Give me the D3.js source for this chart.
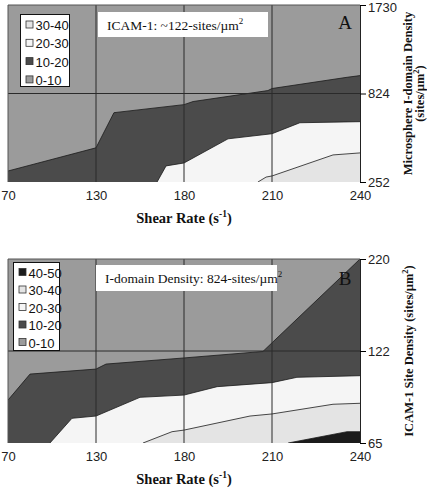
<!DOCTYPE html>
<html><head><meta charset="utf-8">
<script src="https://cdn.jsdelivr.net/npm/d3@7"></script>
<style>body{margin:0;background:#fff}svg{display:block}</style>
</head><body>
<svg id="c" width="427" height="489"></svg>
<script>
// ---- data ----
const shearTicks = [70, 130, 180, 210, 240];
const gridShear = [130, 180, 210];
const bandLabelsA = ["30-40", "20-30", "10-20", "0-10"];
const bandLabelsB = ["40-50", "30-40", "20-30", "10-20", "0-10"];
const yTicksA = [252, 824, 1730];
const yTicksB = [65, 122, 220];
// contour boundaries, panel A: [shear rate, I-domain density]
const a10 = [[70,323],[130,473],[140.2,700],[180,752],[183.1,772],[208.6,854],[210,875],[235.6,990],[240,1007]];
const a20 = [[164.7,252],[169.8,356],[180,375],[195,531],[210,564],[219.5,635],[240,642]];
const a30 = [[205.2,252],[208,284],[210,291],[230.8,427],[240,440]];
// contour boundaries, panel B: [shear rate, ICAM-1 density]
const b10 = [[70,91.6],[85,107.7],[130,110.8],[135.7,113.9],[180,117.7],[206.9,121.7],[240,220]];
const b20 = [[98.6,65],[113.6,80.3],[130,81.7],[155,93.3],[180,94.7],[191.3,99.9],[210,102.4],[218.5,105.7],[240,106.7]];
const b30 = [[156.7,65],[173.2,72],[180,73],[202.5,81.7],[210,83],[230.8,89],[240,89.6]];
const b40 = [[215.5,65],[235.6,72],[240,72]];

const colors = {"0-10":"#9b9b9b","10-20":"#4b4b4b","20-30":"#f5f5f5","30-40":"#e4e4e4","40-50":"#1b1b1b"};

const svg = d3.select("#c");
const L = 8, R = 360;

function panel(cfg) {
  const x = d3.scaleLinear().domain(shearTicks)
    .range(shearTicks.map((d, i) => L + i * (R - L) / 4));
  const y = d3.scaleLinear().domain(cfg.yTicks).range([cfg.bottom, (cfg.top + cfg.bottom) / 2, cfg.top]);
  const g = svg.append("g");
  const clipId = "clip" + cfg.id;
  svg.append("clipPath").attr("id", clipId).append("rect")
    .attr("x", L).attr("y", cfg.top).attr("width", R - L).attr("height", cfg.bottom - cfg.top);
  const pg = g.append("g").attr("clip-path", `url(#${clipId})`);
  pg.append("rect").attr("x", L).attr("y", cfg.top).attr("width", R - L).attr("height", cfg.bottom - cfg.top)
    .attr("fill", colors["0-10"]);
  const area = d3.area().x(d => x(d[0])).y0(cfg.bottom + 2).y1(d => y(d[1]));
  const line = d3.line().x(d => x(d[0])).y(d => y(d[1]));
  cfg.bands.forEach(b => {
    pg.append("path").attr("d", area(b.pts)).attr("fill", colors[b.label]);
  });
  cfg.bands.forEach(b => {
    pg.append("path").attr("d", line(b.pts)).attr("fill", "none").attr("stroke", "#1a1a1a").attr("stroke-width", 0.8);
  });
  // gridlines
  gridShear.forEach(s => {
    g.append("line").attr("x1", x(s)).attr("x2", x(s)).attr("y1", cfg.top).attr("y2", cfg.bottom)
      .attr("stroke", "#2a2a2a").attr("stroke-width", 1);
  });
  g.append("line").attr("x1", L).attr("x2", R).attr("y1", y(cfg.yTicks[1])).attr("y2", y(cfg.yTicks[1]))
    .attr("stroke", "#2a2a2a").attr("stroke-width", 1);
  // border
  g.append("path").attr("d", `M${L},${cfg.bottom}V${cfg.top}H${R}`).attr("fill", "none")
    .attr("stroke", "#555").attr("stroke-width", 1);
  // right axis
  const ax = g.append("g").attr("transform", `translate(${R},0)`)
    .call(d3.axisRight(y).tickValues(cfg.yTicks).tickSize(6).tickPadding(2).tickFormat(d3.format("d")));
  ax.select(".domain").attr("stroke", "#222");
  ax.selectAll("text").attr("font-family", "Liberation Sans, Arial").attr("font-size", 13).attr("fill", "#222");
  // keep the top label fully inside the page
  ax.selectAll(".tick text").filter(d => y(d) < 10).attr("dy", "0.5em");
  // x axis labels
  const xa = g.append("g").attr("transform", `translate(0,${cfg.bottom})`)
    .call(d3.axisBottom(x).tickValues(shearTicks).tickSize(0).tickPadding(9).tickFormat(d3.format("d")));
  xa.select(".domain").remove();
  xa.selectAll("text").attr("font-family", "Liberation Sans, Arial").attr("font-size", 13).attr("fill", "#222");
  // x title
  const xt = g.append("text").attr("x", 184).attr("y", cfg.xTitleY).attr("text-anchor", "middle")
    .attr("font-family", "Liberation Serif, Times New Roman").attr("font-weight", "bold").attr("font-size", 14.5).attr("fill", "#111");
  xt.append("tspan").text("Shear Rate (s");
  xt.append("tspan").attr("font-size", 9.5).attr("dy", -6).text("-1");
  xt.append("tspan").attr("dy", 6).text(")");
  // info box
  g.append("rect").attr("x", cfg.box[0]).attr("y", cfg.box[1]).attr("width", cfg.box[2]).attr("height", cfg.box[3]).attr("fill", "#fff");
  const it = g.append("text").attr("x", cfg.box[0] + 9).attr("y", cfg.box[1] + cfg.box[3] / 2 + 5)
    .attr("font-family", "Liberation Serif, Times New Roman").attr("font-size", 13.5).attr("fill", "#111");
  it.append("tspan").text(cfg.info);
  it.append("tspan").attr("font-size", 9).attr("dy", -6).text("2");
  // panel letter
  g.append("text").attr("x", 345).attr("y", cfg.letterY).attr("text-anchor", "middle")
    .attr("font-family", "Liberation Serif, Times New Roman").attr("font-size", 19).attr("fill", "#111").text(cfg.letter);
  // legend
  const lg = g.append("g");
  lg.append("rect").attr("x", cfg.leg[0]).attr("y", cfg.leg[1]).attr("width", cfg.leg[2]).attr("height", cfg.leg[3])
    .attr("fill", "#fff").attr("stroke", "#111").attr("stroke-width", 1);
  cfg.legLabels.forEach((lab, i) => {
    const yy = cfg.leg[1] + cfg.legFirst + i * cfg.legStep;
    lg.append("rect").attr("x", cfg.leg[0] + 5.5).attr("y", yy - 4.5).attr("width", 7).attr("height", 7)
      .attr("fill", colors[lab]).attr("stroke", "#333").attr("stroke-width", 0.8);
    lg.append("text").attr("x", cfg.leg[0] + 15).attr("y", yy + 4.5)
      .attr("font-family", "Liberation Sans, Arial").attr("font-size", 13).attr("fill", "#111").text(lab);
  });
  // y title
  const yt = g.append("g").attr("transform", `translate(${cfg.yTitleX},${(cfg.top + cfg.bottom) / 2}) rotate(-90)`);
  cfg.yTitle.forEach((ln, i) => {
    const t = yt.append("text").attr("x", 0).attr("y", i * 12.5).attr("text-anchor", "middle")
      .attr("font-family", "Liberation Serif, Times New Roman").attr("font-weight", "bold").attr("font-size", 12.5).attr("fill", "#111");
    t.append("tspan").text(ln[0]);
    if (ln.length > 1) {
      t.append("tspan").attr("font-size", 8.5).attr("dy", -5).text("2");
      t.append("tspan").attr("dy", 5).text(ln[1]);
    }
  });
}

panel({
  id: "A", top: 5, bottom: 182, yTicks: yTicksA,
  bands: [{label: "10-20", pts: a10}, {label: "20-30", pts: a20}, {label: "30-40", pts: a30}],
  xTitleY: 223, box: [98, 12, 170, 25], info: "ICAM-1: ~122-sites/\u00b5m", letter: "A", letterY: 29,
  leg: [20.5, 14.5, 49, 72], legLabels: bandLabelsA, legFirst: 11, legStep: 18.3,
  yTitleX: 411.5, yTitle: [["Microsphere I-domain Density"], ["(sites/\u00b5m", ")"]]
});
panel({
  id: "B", top: 259, bottom: 443, yTicks: yTicksB,
  bands: [{label: "10-20", pts: b10}, {label: "20-30", pts: b20}, {label: "30-40", pts: b30}, {label: "40-50", pts: b40}],
  xTitleY: 484, box: [96, 265, 181, 26], info: "I-domain Density: 824-sites/\u00b5m", letter: "B", letterY: 285,
  leg: [13.5, 262.5, 46, 88], legLabels: bandLabelsB, legFirst: 10.5, legStep: 17.5,
  yTitleX: 413, yTitle: [["ICAM-1 Site Density (sites/\u00b5m", ")"]]
});
</script>
</body></html>
